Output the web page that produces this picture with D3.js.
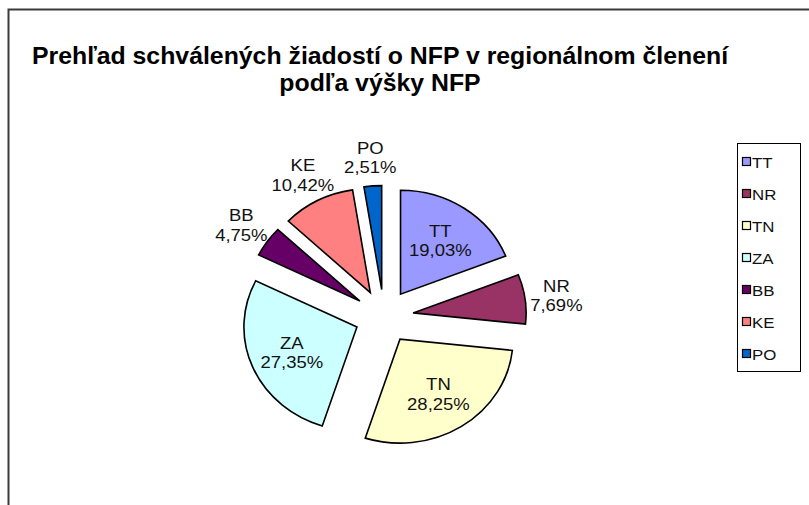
<!DOCTYPE html>
<html><head><meta charset="utf-8">
<script src="https://cdn.jsdelivr.net/npm/d3@7"></script>
<style>html,body{margin:0;padding:0;background:#fff;}svg{display:block;}</style>
</head><body>
<svg id="chart" width="809" height="505"></svg>
<script>
const titleLines = ["Prehľad schválených žiadostí o NFP v regionálnom členení", "podľa výšky NFP"];
const categories = ["TT", "NR", "TN", "ZA", "BB", "KE", "PO"];
const values = [19.03, 7.69, 28.25, 27.35, 4.75, 10.42, 2.51];
const colors = ["#9999FF", "#993366", "#FFFFCC", "#CCFFFF", "#660066", "#FF8080", "#0066CC"];

const W = 809, H = 505;
const sx = 1.087;            // horizontal stretch of the original picture
const cx = 384, cy = 316.5;  // pie centre
const R = 104, explode = 27, labelOut = 160, labelIn = 92;
const font = "'Liberation Sans', Arial, sans-serif";

const svg = d3.select("#chart");
svg.append("rect").attr("width", W).attr("height", H).attr("fill", "#fff");

// chart area border (only top & left visible)
svg.append("path").attr("d", `M8.5,${H} V9.5 H${W}`).attr("fill", "none")
  .attr("stroke", "#3a3a3a").attr("stroke-width", 2);

// title
const tg = svg.append("g");
titleLines.forEach((t, i) => {
  tg.append("text")
    .attr("transform", `translate(380,${64 + i * 26.5}) scale(1.08,1)`)
    .attr("text-anchor", "middle")
    .attr("font-family", font).attr("font-weight", "bold").attr("font-size", 23)
    .attr("fill", "#000").text(t);
});

const loc = d3.formatLocale({decimal: ",", thousands: " ", grouping: [3], currency: ["", ""]});
const fmt = loc.format(".2f");
const total = d3.sum(values);

const pie = d3.pie().sort(null).value(d => d)(values);
const arc = d3.arc().innerRadius(0).outerRadius(R);

const pg = svg.append("g").attr("transform", `translate(${cx},${cy}) scale(${sx},1)`);
pie.forEach((p, i) => {
  const mid = (p.startAngle + p.endAngle) / 2;
  const ox = explode * Math.sin(mid), oy = -explode * Math.cos(mid);
  pg.append("path")
    .attr("d", arc(p))
    .attr("transform", `translate(${ox},${oy})`)
    .attr("fill", colors[i])
    .attr("stroke", "#000").attr("stroke-width", 1.6)
    .attr("stroke-linejoin", "miter")
    .attr("vector-effect", "non-scaling-stroke");
});

// data labels
const lg = svg.append("g");
pie.forEach((p, i) => {
  const mid = (p.startAngle + p.endAngle) / 2;
  const pct = values[i] / total * 100;
  const r = pct > 15 ? labelIn : labelOut;
  const x = cx + sx * r * Math.sin(mid);
  const y = cy - r * Math.cos(mid);
  const t = lg.append("text")
    .attr("transform", `translate(${x},${y}) scale(${sx},1)`)
    .attr("text-anchor", "middle")
    .attr("font-family", font).attr("font-size", 17).attr("fill", "#111");
  t.append("tspan").attr("x", 0).attr("y", -3.5).text(categories[i]);
  t.append("tspan").attr("x", 0).attr("y", 16).text(fmt(pct) + "%");
});

// legend
const legX = 737, legY = 143, legW = 63, legH = 228, step = 32;
const leg = svg.append("g");
leg.append("rect").attr("x", legX + 0.5).attr("y", legY + 0.5).attr("width", legW).attr("height", legH)
  .attr("fill", "#fff").attr("stroke", "#000").attr("stroke-width", 1);
categories.forEach((c, i) => {
  const yy = legY + 19 + i * step;
  leg.append("rect").attr("x", legX + 5.5).attr("y", yy - 4.5).attr("width", 8).attr("height", 8)
    .attr("fill", colors[i]).attr("stroke", "#000").attr("stroke-width", 1.2);
  leg.append("text")
    .attr("transform", `translate(${legX + 15},${yy + 5.5}) scale(${sx},1)`)
    .attr("font-family", font).attr("font-size", 15.5).attr("fill", "#111").text(c);
});
</script>
</body></html>
